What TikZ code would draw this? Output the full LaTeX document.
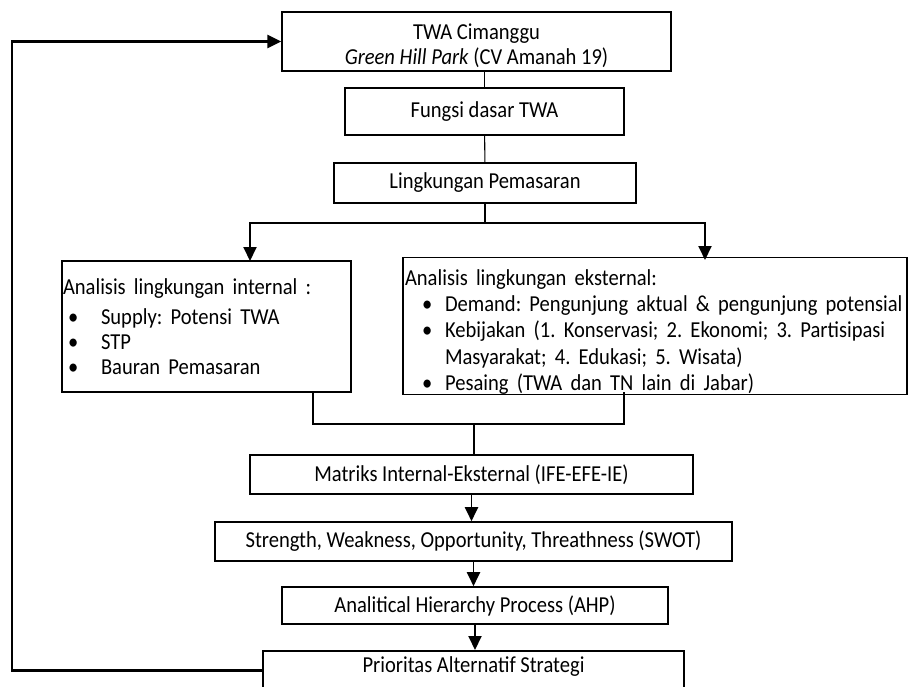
\documentclass[tikz,border=0pt]{standalone}
\usepackage{fontspec}
\setmainfont{Carlito}[FakeStretch=0.9]
\usetikzlibrary{arrows.meta,calc,positioning}
\definecolor{ink}{HTML}{000000}
\tikzset{
  basebox/.style={draw=ink,line width=0.9pt,fill=white,align=center,inner sep=0pt,font=\fontsize{13}{15}\selectfont},
  listbox/.style={basebox,align=left,font=\fontsize{13}{14.2}\selectfont\frenchspacing},
  link/.style={line width=0.6pt,draw=ink},
  arrow/.style={-{Triangle[length=0.28cm,width=0.26cm]},line width=1.1pt,draw=ink},
  loopline/.style={arrow,line width=1.5pt}
}
\newcommand{\listsp}{\spaceskip=0.36em\xspaceskip=0.36em\relax}
\newcommand{\initem}[1]{\hspace*{0.12cm}\makebox[0.66cm][l]{\textbullet}#1}
\newcommand{\exitem}[1]{\hspace*{0.38cm}\makebox[0.46cm][l]{\textbullet}#1}

\begin{document}
\begin{tikzpicture}[x=0.02cm,y=-0.02cm]
    \useasboundingbox (0,0) rectangle (909,686);
    \clip (0,0) rectangle (909,686);
    % boxes
    \node[basebox,minimum width=7.78cm,minimum height=1.18cm] (top) at (476.5,41.5)
      {\rule{0pt}{0.48cm}TWA Cimanggu\\[-1pt]\textit{Green Hill Park} (CV Amanah 19)};
    \node[basebox,minimum width=5.58cm,minimum height=0.94cm] (fungsi) at (484.5,111.5) {Fungsi dasar TWA};
    \node[basebox,minimum width=6.04cm,minimum height=0.8cm] (lingk) at (485,183) {Lingkungan Pemasaran};
    \node[listbox,text width=5.78cm,minimum height=2.62cm] (internal) at (206.5,326.5)
      {\listsp\hspace*{0.02cm}Analisis lingkungan internal :\\[0.1cm]
       \initem{Supply: Potensi TWA}\\
       \initem{STP}\\
       \initem{Bauran Pemasaran}};
    \node[listbox,text width=10.08cm,minimum height=2.64cm,font=\fontsize{13}{15}\selectfont\frenchspacing] (external) at (655,326)
      {\listsp\hspace*{0.04cm}\rule{0pt}{0.55cm}Analisis lingkungan eksternal:\\
       \exitem{Demand: Pengunjung aktual \& pengunjung potensial}\\
       \exitem{Kebijakan (1. Konservasi; 2. Ekonomi; 3. Partisipasi}\\
       \hspace*{0.84cm}Masyarakat; 4. Edukasi; 5. Wisata)\\
       \exitem{Pesaing (TWA dan TN lain di Jabar)}};
    \node[basebox,minimum width=8.86cm,minimum height=0.78cm] (matriks) at (471.5,474.5) {Matriks Internal-Eksternal (IFE-EFE-IE)};
    \node[basebox,minimum width=10.34cm,minimum height=0.78cm] (swot) at (473.5,541.5) {Strength, Weakness, Opportunity, Threathness (SWOT)};
    \node[basebox,minimum width=7.72cm,minimum height=0.74cm] (ahp) at (475,605.5) {Analitical Hierarchy Process (AHP)};
    \node[basebox,anchor=north,minimum width=8.42cm,text height=0.44cm,text depth=0.36cm] (prior) at (473.5,650) {Prioritas Alternatif Strategi};
    % connectors
    \coordinate (split) at (485,223);
    \coordinate (inTop) at (250,261);
    \coordinate (exTop) at (705,260);
    \coordinate (inBot) at (313,392);
    \coordinate (exBot) at (624,392);
    \coordinate (join) at (474,424);
    \coordinate (loop) at (12,671);
    \draw[link] (top.south -| fungsi.north) -- (fungsi.north);
    \draw[link] (fungsi) -- (lingk);
    \draw[link] (lingk.south) -- (split);
    \draw[arrow] (split) -| (inTop);
    \draw[arrow] (split) -| (exTop);
    \draw[link] (inBot) |- (exBot |- join) -- (exBot);
    \draw[link] (join) -- (join |- matriks.north);
    \foreach \a/\b in {matriks/swot,swot/ahp,ahp/prior}
      \draw[arrow] (\a.south) -- (\a.south |- \b.north);
    \draw[loopline] (prior.west) -- (prior.west -| loop) |- (top.west);
\end{tikzpicture}
\end{document}
